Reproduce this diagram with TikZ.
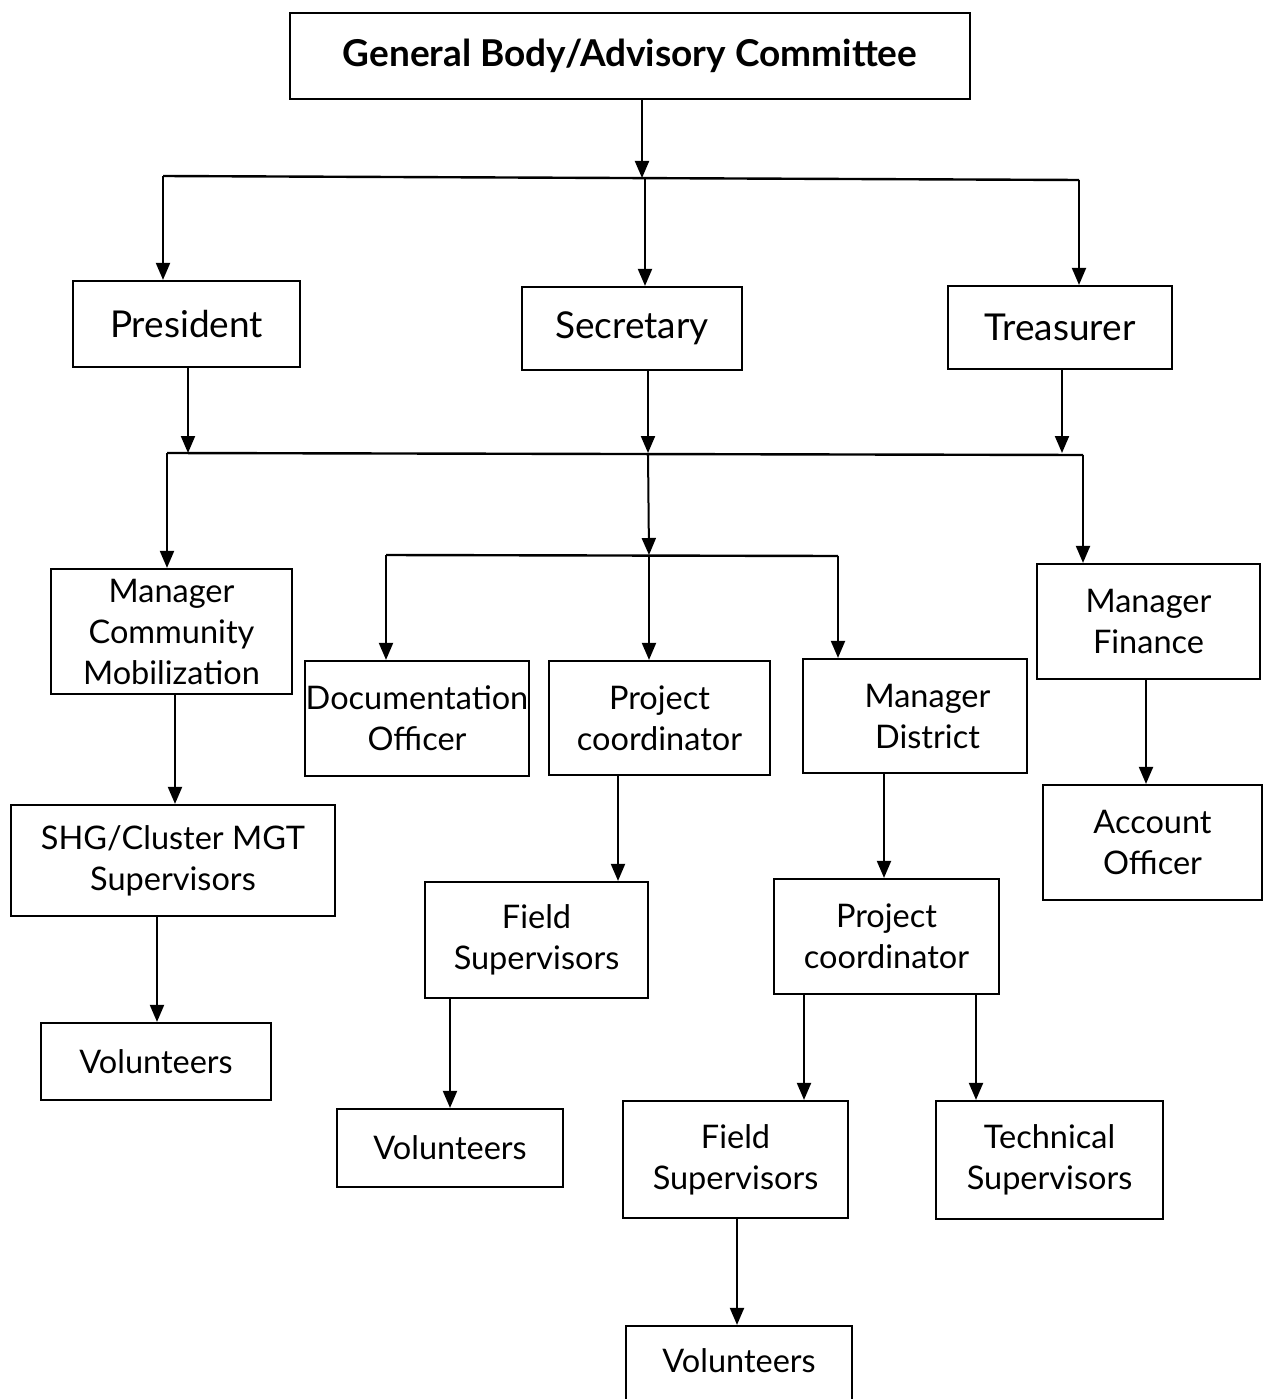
\documentclass[tikz,border=0pt]{standalone}
\usepackage{fontspec}
\setmainfont{Lato}
\usetikzlibrary{arrows.meta}
\begin{document}
\begin{tikzpicture}[x=1pt,y=-1pt,
  box/.style={draw=black,line width=2.2pt,inner sep=0pt,align=center,font=\fontsize{32.5}{41}\selectfont},
  big/.style={font=\fontsize{37}{44}\selectfont},
  arr/.style={line width=2pt,-{Triangle[length=17pt,width=14pt]}},
  ln/.style={line width=2.4pt}]
\useasboundingbox (0,0) rectangle (1262,1399);
% boxes (centre, width, height)
\node[box,minimum width=680,minimum height=86,font=\fontsize{37}{44}\selectfont\bfseries] (gb) at (630,56) {General Body/Advisory Committee};
\node[box,big,minimum width=227,minimum height=86] (pres) at (186.5,324) {President};
\node[box,big,minimum width=220,minimum height=83] (sec) at (632,328.5) {Secretary};
\node[box,big,minimum width=224,minimum height=83] (tre) at (1060,327.5) {Treasurer};
\node[box,minimum width=241,minimum height=125] (mcm) at (171.5,631.5) {Manager\\Community\\Mobilization};
\node[box,minimum width=224,minimum height=115] (doc) at (417,718.5) {Documentation\\Officer};
\node[box,minimum width=221,minimum height=114] (pc1) at (659.5,718) {Project\\coordinator};
\node[box,minimum width=224,minimum height=114] (md) at (915,716) {\hspace*{25pt}Manager\\\hspace*{25pt}District};
\node[box,minimum width=223,minimum height=115] (mf) at (1148.5,621.5) {Manager\\Finance};
\node[box,minimum width=324,minimum height=111] (shg) at (173,860.5) {SHG/Cluster MGT\\Supervisors};
\node[box,minimum width=223,minimum height=116] (fs1) at (536.5,940) {Field\\Supervisors};
\node[box,minimum width=225,minimum height=115] (pc2) at (886.5,936.5) {Project\\coordinator};
\node[box,minimum width=219,minimum height=115] (ao) at (1152.5,842.5) {Account\\Officer};
\node[box,minimum width=230,minimum height=77] (v1) at (156,1061.5) {Volunteers};
\node[box,minimum width=226,minimum height=78] (v2) at (450,1148) {Volunteers};
\node[box,minimum width=225,minimum height=117] (fs2) at (735.5,1159.5) {Field\\Supervisors};
\node[box,minimum width=227,minimum height=118] (ts) at (1049.5,1160) {Technical\\Supervisors};
\node[box,minimum width=226,minimum height=100,text depth=30pt] (v3) at (739,1376) {Volunteers};
% bus coordinates
\coordinate (b1) at (642,178);
\coordinate (b1l) at (163,176);
\coordinate (b1r) at (1079,180);
\coordinate (b2) at (648,453);
\coordinate (b2l) at (167,453);
\coordinate (b2r) at (1083,455);
\coordinate (b3) at (649,555);
\coordinate (b3l) at (386,555);
\coordinate (b3r) at (838,556);
% level 1
\draw[arr] (gb.south -| b1) -- (b1);
\draw[ln] (b1l) -- (b1r);
\draw[arr] (b1l) -- (b1l |- pres.north);
\draw[arr] ([xshift=3pt]b1) -- ([xshift=3pt]b1 |- sec.north);
\draw[arr] (b1r) -- (b1r |- tre.north);
% level 2
\draw[arr] ([xshift=1.5pt]pres.south) -- (188,453);
\draw[arr] ([xshift=16pt]sec.south) -- (b2);
\draw[arr] ([xshift=2pt]tre.south) -- (1062,453);
\draw[ln] (b2l) -- (b2r);
\draw[arr] (b2l) -- (b2l |- mcm.north);
\draw[arr] (b2) -- (b3);
\draw[arr] (b2r) -- (b2r |- mf.north);
% level 3
\draw[ln] (b3l) -- (b3r);
\draw[arr] (b3l) -- (b3l |- doc.north);
\draw[arr] (b3) -- (b3 |- pc1.north);
\draw[arr] (b3r) -- (b3r |- md.north);
% lower
\draw[arr] ([xshift=3.5pt]mcm.south) -- ([xshift=3.5pt]mcm.south |- shg.north);
\draw[arr] ([xshift=-16pt]shg.south) -- ([xshift=-16pt]shg.south |- v1.north);
\draw[arr] ([xshift=-41.5pt]pc1.south) -- ([xshift=-41.5pt]pc1.south |- fs1.north);
\draw[arr] ([xshift=-86.5pt]fs1.south) -- ([xshift=-86.5pt]fs1.south |- v2.north);
\draw[arr] ([xshift=-31pt]md.south) -- ([xshift=-31pt]md.south |- pc2.north);
\draw[arr] ([xshift=-82.5pt]pc2.south) -- ([xshift=-82.5pt]pc2.south |- fs2.north);
\draw[arr] ([xshift=89.5pt]pc2.south) -- ([xshift=89.5pt]pc2.south |- ts.north);
\draw[arr] ([xshift=1.5pt]fs2.south) -- ([xshift=1.5pt]fs2.south |- v3.north);
\draw[arr] ([xshift=-2.5pt]mf.south) -- ([xshift=-2.5pt]mf.south |- ao.north);
\end{tikzpicture}
\end{document}
